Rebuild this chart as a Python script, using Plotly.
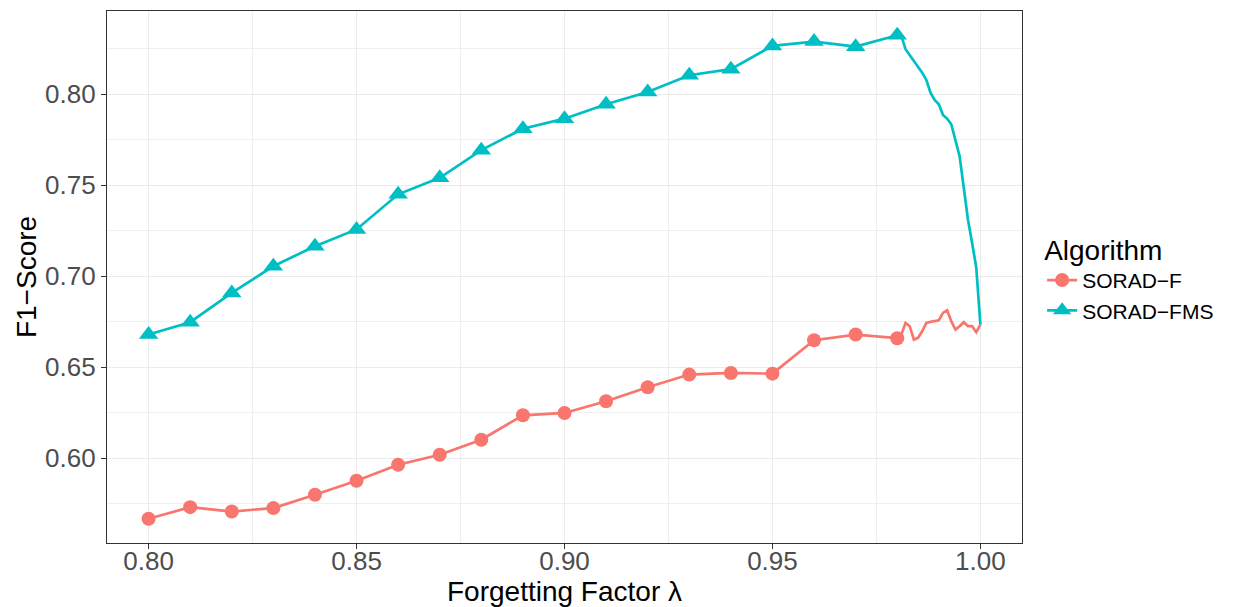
import plotly.graph_objects as go

# Forgetting factor grid with a marker every 0.01
lam_coarse = [0.80, 0.81, 0.82, 0.83, 0.84, 0.85, 0.86, 0.87, 0.88, 0.89,
              0.90, 0.91, 0.92, 0.93, 0.94, 0.95, 0.96, 0.97, 0.98]
f1_f_coarse = [0.5666, 0.5730, 0.5706, 0.5725, 0.5798, 0.5875, 0.5963, 0.6018, 0.6101, 0.6235,
               0.6248, 0.6312, 0.6389, 0.6459, 0.6468, 0.6464, 0.6648, 0.6679, 0.6659]
f1_fms_coarse = [0.6679, 0.6747, 0.6908, 0.7055, 0.7165, 0.7257, 0.7450, 0.7541, 0.7693, 0.7811,
                 0.7866, 0.7945, 0.8013, 0.8105, 0.8138, 0.8266, 0.8290, 0.8262, 0.8325]

# Fine sweep between 0.98 and 1.00 (line only)
lam_fine = [0.981, 0.982, 0.983, 0.984, 0.985, 0.986, 0.987, 0.988, 0.989, 0.990,
            0.991, 0.992, 0.993, 0.994, 0.995, 0.996, 0.997, 0.998, 0.999, 1.000]
f1_f_fine = [0.6679, 0.6743, 0.6725, 0.6651, 0.6661, 0.6697, 0.6743, 0.6749, 0.6752, 0.6758,
             0.6798, 0.6813, 0.6752, 0.6706, 0.6725, 0.6747, 0.6725, 0.6725, 0.6692, 0.6734]
f1_fms_fine = [0.8321, 0.8248, 0.8215, 0.8189, 0.8156, 0.8119, 0.8079, 0.8009, 0.7969, 0.7945,
               0.7886, 0.7866, 0.7835, 0.7743, 0.7660, 0.7486, 0.7312, 0.7184, 0.7048, 0.6734]

series_names = ["SORAD\u2212F", "SORAD\u2212FMS"]
colors = ["#F8766D", "#00BFC4"]
symbols = ["circle", "triangle-up"]
marker_sizes = [14, 17]

FONT = "Liberation Sans, Arial, Helvetica, sans-serif"

fig = go.Figure()
for name, col, sym, msz, yc, yf in zip(series_names, colors, symbols, marker_sizes,
                                        [f1_f_coarse, f1_fms_coarse],
                                        [f1_f_fine, f1_fms_fine]):
    # tail of the curve, continuing from the last marked point
    fig.add_trace(go.Scatter(
        x=[lam_coarse[-1]] + lam_fine, y=[yc[-1]] + yf,
        mode="lines", line=dict(color=col, width=2.7),
        showlegend=False, legendgroup=name, hoverinfo="skip"))
    fig.add_trace(go.Scatter(
        x=lam_coarse, y=yc, name=name, legendgroup=name,
        mode="lines+markers", line=dict(color=col, width=2.7),
        marker=dict(symbol=sym, size=msz, color=col, line=dict(width=0))))

axis_common = dict(
    showline=True, linecolor="#333333", linewidth=1.2, mirror=True,
    ticks="outside", ticklen=5, tickwidth=1.1, tickcolor="#333333",
    showgrid=True, gridcolor="#EBEBEB", gridwidth=1.2,
    zeroline=False, automargin=False,
    tickfont=dict(family=FONT, size=26, color="#4D4D4D"),
    minor=dict(showgrid=True, gridcolor="#EFEFEF", gridwidth=0.7, ticks=""),
)

fig.update_xaxes(
    range=[0.79, 1.01], tick0=0.80, dtick=0.05, tickformat=".2f",
    minor_dtick=0.025, minor_tick0=0.80, ticklabelstandoff=-10,
    title=dict(text="Forgetting Factor \u03bb", font=dict(family=FONT, size=28, color="black"),
               standoff=2),
    **axis_common)
fig.update_yaxes(
    range=[0.5533, 0.8458], tick0=0.60, dtick=0.05, tickformat=".2f",
    minor_dtick=0.025, minor_tick0=0.575,
    title=dict(text="F1\u2212Score", font=dict(family=FONT, size=28, color="black"),
               standoff=0),
    **axis_common)

fig.update_layout(
    width=1243, height=607,
    margin=dict(l=107, r=221, t=11, b=64),
    plot_bgcolor="white", paper_bgcolor="white",
    font=dict(family=FONT),
    legend=dict(
        title=dict(text="Algorithm", font=dict(family=FONT, size=28, color="black")),
        font=dict(family=FONT, size=21, color="black"),
        x=1.022, xanchor="left", y=0.5, yanchor="middle",
        bgcolor="rgba(0,0,0,0)", itemwidth=30, tracegroupgap=0,
    ),
)

fig.write_html("out.html")
